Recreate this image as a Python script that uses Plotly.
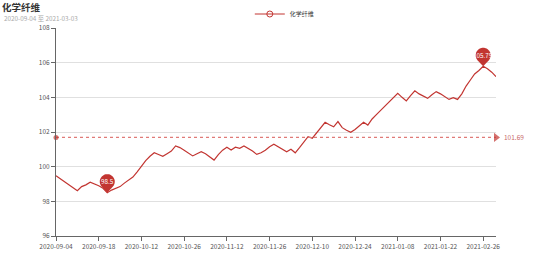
import math
import plotly.graph_objects as go

# ---------------- data ----------------
dates = [
    "2020-09-04", "2020-09-07", "2020-09-08", "2020-09-09", "2020-09-10", "2020-09-11",
    "2020-09-14", "2020-09-15", "2020-09-16", "2020-09-17", "2020-09-18",
    "2020-09-21", "2020-09-22", "2020-09-23", "2020-09-24", "2020-09-25",
    "2020-09-28", "2020-09-29", "2020-09-30", "2020-10-09", "2020-10-12",
    "2020-10-13", "2020-10-14", "2020-10-15", "2020-10-16",
    "2020-10-19", "2020-10-20", "2020-10-21", "2020-10-22", "2020-10-23", "2020-10-26",
    "2020-10-27", "2020-10-28", "2020-10-30", "2020-11-02", "2020-11-04", "2020-11-05",
    "2020-11-06", "2020-11-10", "2020-11-11", "2020-11-12", "2020-11-13",
    "2020-11-16", "2020-11-17", "2020-11-18", "2020-11-19", "2020-11-20",
    "2020-11-23", "2020-11-24", "2020-11-25", "2020-11-26", "2020-11-27", "2020-11-30",
    "2020-12-01", "2020-12-02", "2020-12-03", "2020-12-04",
    "2020-12-07", "2020-12-08", "2020-12-09", "2020-12-10", "2020-12-11",
    "2020-12-14", "2020-12-15", "2020-12-16", "2020-12-17", "2020-12-18",
    "2020-12-21", "2020-12-22", "2020-12-23", "2020-12-24", "2020-12-25",
    "2020-12-28", "2020-12-29", "2020-12-30", "2020-12-31",
    "2021-01-04", "2021-01-05", "2021-01-06", "2021-01-07", "2021-01-08",
    "2021-01-11", "2021-01-12", "2021-01-13", "2021-01-14", "2021-01-15",
    "2021-01-18", "2021-01-19", "2021-01-20", "2021-01-21", "2021-01-22",
    "2021-01-25", "2021-01-27", "2021-01-29", "2021-02-02", "2021-02-04",
    "2021-02-08", "2021-02-10", "2021-02-19", "2021-02-23", "2021-02-26",
    "2021-03-01", "2021-03-02", "2021-03-03",
]

values = [
    99.48, 99.30, 99.10, 98.95, 98.78, 98.61,
    98.85, 98.95, 99.10, 99.00, 98.90, 98.75, 98.50,
    98.65, 98.75, 98.85, 99.05, 99.25, 99.40,
    99.70, 100.05, 100.35, 100.60, 100.80,
    100.70, 100.60, 100.75, 100.90, 101.20,
    101.10, 100.95, 100.80, 100.62, 100.75, 100.86, 100.75, 100.55, 100.38,
    100.70, 100.95, 101.12, 100.96, 101.12, 101.06, 101.19, 101.05, 100.90, 100.71,
    100.80, 100.95, 101.15, 101.29, 101.15, 101.00, 100.86, 101.00, 100.80,
    101.10, 101.40, 101.73, 101.64, 101.95, 102.25, 102.56, 102.42, 102.30, 102.60,
    102.25, 102.10, 101.98,
    102.15, 102.35, 102.56, 102.40, 102.75, 103.00, 103.25, 103.50, 103.75, 103.95, 104.23,
    104.00, 103.79, 104.10, 104.38, 104.20, 104.05, 103.94, 104.15, 104.33, 104.20,
    104.05, 103.88, 103.98, 103.88,
    104.20, 104.65, 105.00, 105.35, 105.55, 105.79, 105.65, 105.45, 105.19,
]

series_name = "化学纤维"
title_text = "化学纤维"
subtitle_text = "2020-09-04 至 2021-03-03"
y_ticks = [96, 98, 100, 102, 104, 106, 108]
x_tick_labels = dates[::10]

# ---------------- derived ----------------
avg = sum(values) / len(values)
imax = max(range(len(values)), key=lambda i: values[i])
imin = min(range(len(values)), key=lambda i: values[i])

RED = "#c23531"
FONT = "Noto Sans CJK SC, Noto Sans, sans-serif"

fig = go.Figure()

# main line
fig.add_trace(go.Scatter(
    x=dates, y=values, mode="lines", name=series_name,
    line=dict(color=RED, width=1.2), showlegend=False, hoverinfo="x+y",
))
# legend entry (line + hollow circle)
fig.add_trace(go.Scatter(
    x=[None], y=[None], mode="lines+markers", name=series_name,
    line=dict(color=RED, width=1),
    marker=dict(symbol="circle-open", size=6, color=RED, line=dict(width=1)),
    showlegend=True,
))
# average mark line (line part)
fig.add_trace(go.Scatter(
    x=[dates[0], dates[-1]], y=[avg, avg], mode="lines",
    line=dict(color="#e07b78", width=1.2, dash="3px,3px"),
    showlegend=False, cliponaxis=False, hoverinfo="skip",
))
# average mark line (end symbols)
fig.add_trace(go.Scatter(
    x=[dates[0], dates[-1]], y=[avg, avg], mode="markers",
    marker=dict(symbol=["circle", "triangle-right"], size=[5, 8], color=RED,
                line=dict(width=0)),
    showlegend=False, cliponaxis=False, hoverinfo="skip",
))

# pin markers for max / min
def pin_path(c=11.0, r=7.5, n=40):
    th = math.acos(r / c)
    start = -math.pi / 2 + th
    end = -math.pi / 2 - th + 2 * math.pi
    pts = ["M 0,0"]
    for k in range(n + 1):
        a = start + (end - start) * k / n
        pts.append("L %.2f,%.2f" % (r * math.cos(a), c + r * math.sin(a)))
    pts.append("Z")
    return " ".join(pts)

shapes = []
annotations = []
for idx in (imax, imin):
    shapes.append(dict(
        type="path", xref="x", yref="y", xsizemode="pixel", ysizemode="pixel",
        xanchor=idx, yanchor=values[idx], path=pin_path(),
        fillcolor=RED, line=dict(width=0), layer="above",
    ))
    annotations.append(dict(
        x=dates[idx], y=values[idx], xref="x", yref="y", yshift=11,
        text=("%.2f" % values[idx]).rstrip("0").rstrip("."), showarrow=False,
        font=dict(color="white", size=6.3, family=FONT),
        xanchor="center", yanchor="middle",
    ))

# average label
annotations.append(dict(
    x=dates[-1], y=avg, xref="x", yref="y", xshift=6, text="%.2f" % avg,
    showarrow=False, xanchor="left", yanchor="middle",
    font=dict(color="#c8696a", size=6.5, family=FONT),
))
# subtitle
annotations.append(dict(
    x=(2 - 56) / 440, y=1 + (28 - 18.5) / 208, xref="paper", yref="paper",
    text=subtitle_text, showarrow=False, xanchor="left", yanchor="middle",
    font=dict(color="#aaaaaa", size=6.3, family=FONT),
))

fig.update_layout(
    width=554, height=265,
    margin=dict(l=56, r=58, t=28, b=29, autoexpand=False),
    paper_bgcolor="white", plot_bgcolor="white",
    title=dict(text="<b>%s</b>" % title_text, x=2 / 554, xanchor="left", xref="container",
               y=1 - 7.5 / 265, yanchor="middle", yref="container",
               font=dict(size=9.5, color="#333333", family=FONT)),
    legend=dict(orientation="h", x=0.52, xanchor="center", y=1 + 14 / 208, yanchor="middle",
                font=dict(size=6, color="#333333", family=FONT),
                itemwidth=30, bgcolor="rgba(0,0,0,0)"),
    shapes=shapes, annotations=annotations,
    xaxis=dict(
        type="category", categoryorder="array", categoryarray=dates,
        range=[0, len(dates) - 1], tickmode="array", tickvals=x_tick_labels,
        ticktext=x_tick_labels, ticks="outside", ticklen=4, tickcolor="#666666",
        showline=True, linecolor="#666666", linewidth=1, showgrid=False,
        tickfont=dict(size=6.5, color="#555555", family=FONT), tickangle=0,
    ),
    yaxis=dict(
        range=[96, 108], tickmode="array", tickvals=y_ticks,
        ticks="outside", ticklen=4, tickcolor="#666666",
        showline=True, linecolor="#666666", linewidth=1,
        showgrid=True, gridcolor="#e0e0e0", gridwidth=1, zeroline=False,
        tickfont=dict(size=6.5, color="#555555", family=FONT),
    ),
)

fig.write_html("out.html")
